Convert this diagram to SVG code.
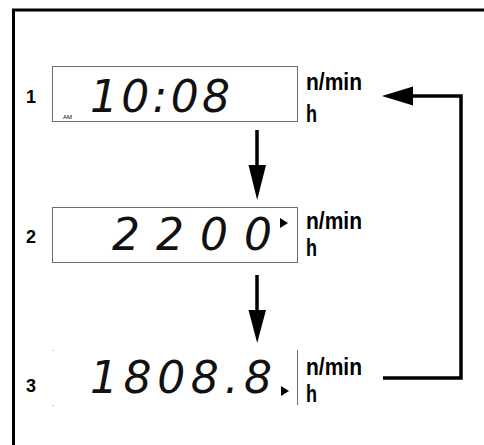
<svg xmlns="http://www.w3.org/2000/svg" width="484" height="445" viewBox="0 0 484 445">
<style>
.frame{stroke:#000;stroke-width:3;fill:none}
.box{fill:none;stroke:#6e6e6e;stroke-width:1}
.num{font-family:"Liberation Sans",Arial,sans-serif;font-weight:bold;font-size:18px;fill:#000}
.lcd{font-family:"DejaVu Sans",sans-serif;font-weight:200;font-style:italic;font-size:44px;fill:#111}
.unit{font-family:"Liberation Sans",Arial,sans-serif;font-weight:bold;font-size:23px;fill:#000}
.am{font-family:"Liberation Sans",Arial,sans-serif;font-size:6px;fill:#000}
.conn{stroke:#000;stroke-width:3.5;fill:none}
.head{fill:#000}
</style>
<rect width="484" height="445" fill="#fff"/>
<path class="frame" d="M13.5,445 V10 H484"/>
<g id="display1">
  <text class="num" x="26" y="103">1</text>
  <rect class="box" x="52.5" y="66.5" width="245" height="55"/>
  <text class="lcd" x="90" y="112" textLength="140" lengthAdjust="spacing">10:08</text>
  <text class="am" x="63" y="119">AM</text>
  <text class="unit" x="306" y="90" textLength="56" lengthAdjust="spacingAndGlyphs">n/min</text>
  <text class="unit" x="306" y="122" textLength="11" lengthAdjust="spacingAndGlyphs">h</text>
</g>
<g id="display2">
  <text class="num" x="26" y="243">2</text>
  <rect class="box" x="52.5" y="207.5" width="245" height="55"/>
  <text class="lcd" x="112" y="250" textLength="160" lengthAdjust="spacing">2200</text>
  <polygon class="head" points="280,218 288,223 280,228"/>
  <text class="unit" x="306" y="229" textLength="56" lengthAdjust="spacingAndGlyphs">n/min</text>
  <text class="unit" x="306" y="256" textLength="11" lengthAdjust="spacingAndGlyphs">h</text>
</g>
<g id="display3">
  <text class="num" x="26" y="392">3</text>
  <rect x="52.5" y="350" width="1" height="1" fill="#999"/>
  <rect x="52.5" y="405" width="1" height="1" fill="#999"/>
  <line x1="297.5" y1="350" x2="297.5" y2="405" stroke="#6e6e6e" stroke-width="1"/>
  <text class="lcd" x="90" y="393" textLength="182" lengthAdjust="spacing">1808.8</text>
  <polygon class="head" points="281,386 289,391 281,396"/>
  <text class="unit" x="306" y="375" textLength="56" lengthAdjust="spacingAndGlyphs">n/min</text>
  <text class="unit" x="306" y="402" textLength="11" lengthAdjust="spacingAndGlyphs">h</text>
</g>
<g id="connectors">
  <line class="conn" x1="257" y1="130" x2="257" y2="167"/>
  <polygon class="head" points="248.5,165 266,165 257.2,200"/>
  <line class="conn" x1="257" y1="275" x2="257" y2="312"/>
  <polygon class="head" points="248.5,310 266,310 257.2,343"/>
  <path class="conn" d="M383,378 H461 V96 H410"/>
  <polygon class="head" points="382,96 413,86.5 413,105.5"/>
</g>
</svg>
